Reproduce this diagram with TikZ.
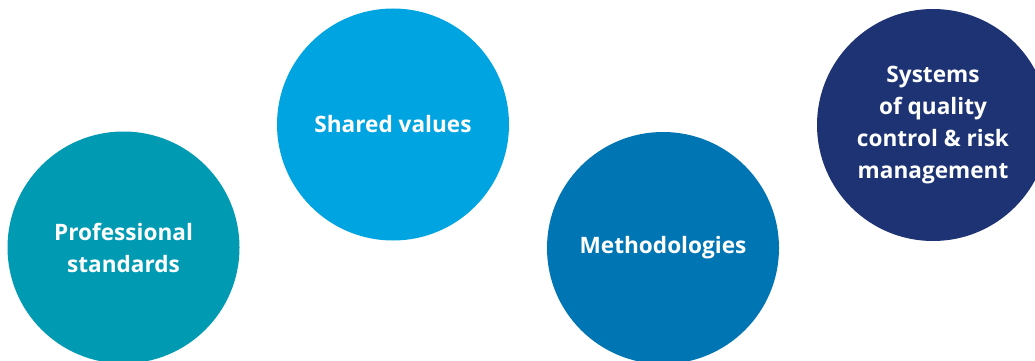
\documentclass[tikz,border=0pt]{standalone}
\usepackage{fontspec}
\setmainfont{Open Sans}
\usepackage{xcolor}
\definecolor{tealc}{HTML}{009BB3}
\definecolor{skyc}{HTML}{00A4E0}
\definecolor{bluec}{HTML}{0075B4}
\definecolor{navyc}{HTML}{1D3373}
\tikzset{
	bubble/.style={circle, minimum size=232pt, inner sep=0pt, text=white,
		font=\fontsize{22.6}{32}\selectfont\bfseries, align=center}
}

\begin{document}
\begin{tikzpicture}[x=1pt,y=-1pt]
				\useasboundingbox (0,0) rectangle (1035,361);
				\clip (0,0) rectangle (1035,361);
				\node [bubble, fill=tealc] (prof) at (123.5,247.5){Professional\\standards};
				\node [bubble, fill=skyc] (shared) at (393,124.5){Shared values};
				\node [bubble, fill=bluec] (method) at (663,248){Methodologies};
				\node [bubble, fill=navyc] (systems) at (933,125){Systems\\of quality\\control \& risk\\management};
			\end{tikzpicture}
\end{document}
